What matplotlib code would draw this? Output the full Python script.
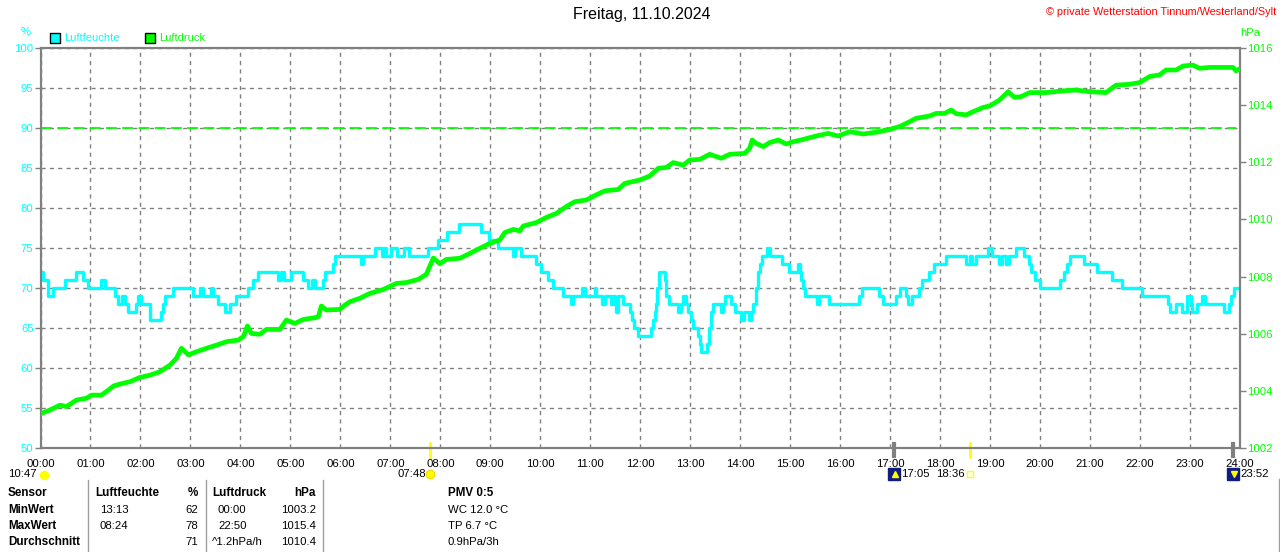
import matplotlib
matplotlib.use('Agg')
import matplotlib.pyplot as plt
from matplotlib.patches import Rectangle
from matplotlib.lines import Line2D
from matplotlib.transforms import blended_transform_factory

plt.rcParams['font.family'] = ['Liberation Sans', 'DejaVu Sans']

# Luftfeuchte (%), stepped values: start hour of each step
hum_t = [0.0, 0.06, 0.16, 0.26, 0.49, 0.72, 0.86, 0.96, 1.22, 1.29, 1.49, 1.56, 1.64, 1.69, 1.76,
         1.92, 1.96, 2.02, 2.19, 2.42, 2.46, 2.49, 2.66, 3.06, 3.2, 3.26, 3.42, 3.46, 3.56, 3.69,
         3.79, 3.92, 4.16, 4.26, 4.36, 4.76, 4.82, 4.88, 5.02, 5.26, 5.36, 5.44, 5.49, 5.66, 5.69,
         5.86, 5.89, 6.41, 6.46, 6.69, 6.84, 6.88, 6.92, 7.02, 7.14, 7.28, 7.38, 7.76, 7.95, 8.14,
         8.37, 8.81, 8.97, 9.15, 9.45, 9.49, 9.62, 9.92, 10.02, 10.16, 10.26, 10.46, 10.62, 10.66,
         10.84, 10.89, 11.09, 11.12, 11.24, 11.29, 11.42, 11.46, 11.49, 11.52, 11.56, 11.66, 11.79,
         11.84, 11.87, 11.96, 12.22, 12.26, 12.29, 12.31, 12.34, 12.38, 12.49, 12.52, 12.58, 12.76,
         12.82, 12.86, 12.92, 12.96, 13.02, 13.06, 13.16, 13.19, 13.22, 13.34, 13.37, 13.41, 13.46,
         13.61, 13.66, 13.69, 13.82, 13.89, 14.02, 14.07, 14.18, 14.22, 14.26, 14.31, 14.36, 14.39,
         14.44, 14.54, 14.59, 14.84, 14.98, 15.16, 15.19, 15.22, 15.26, 15.29, 15.54, 15.58, 15.78,
         16.38, 16.44, 16.78, 16.86, 17.11, 17.2, 17.31, 17.36, 17.44, 17.58, 17.64, 17.78, 17.87,
         18.11, 18.51, 18.6, 18.64, 18.71, 18.96, 19.04, 19.18, 19.24, 19.31, 19.38, 19.51, 19.67,
         19.78, 19.82, 19.89, 20.0, 20.4, 20.47, 20.54, 20.6, 20.87, 21.14, 21.44, 21.64, 22.04,
         22.56, 22.6, 22.71, 22.84, 22.94, 23.01, 23.04, 23.14, 23.24, 23.29, 23.68, 23.77, 23.81,
         23.87, 23.95]
hum_v = [72, 71, 69, 70, 71, 72, 71, 70, 71, 70, 69, 68, 69, 68, 67,
         68, 69, 68, 66, 67, 68, 69, 70, 69, 70, 69, 70, 69, 68, 67,
         68, 69, 70, 71, 72, 71, 72, 71, 72, 71, 70, 71, 70, 71, 72,
         73, 74, 73, 74, 75, 74, 75, 74, 75, 74, 75, 74, 75, 76, 77,
         78, 77, 76, 75, 74, 75, 74, 73, 72, 71, 70, 69, 68, 69,
         70, 69, 70, 69, 68, 69, 68, 69, 68, 67, 69, 68, 67,
         66, 65, 64, 65, 66, 67, 68, 70, 72, 71, 69, 68, 67,
         68, 69, 68, 67, 66, 65, 64, 63, 62, 63, 65, 67, 68,
         67, 68, 69, 68, 67, 66, 67, 66, 67, 68, 70, 72, 73,
         74, 75, 74, 73, 72, 73, 72, 71, 70, 69, 68, 69, 68,
         69, 70, 69, 68, 69, 70, 69, 68, 69, 70, 71, 72, 73,
         74, 73, 74, 73, 74, 75, 74, 73, 74, 73, 74, 75, 74,
         73, 72, 71, 70, 71, 72, 73, 74, 73, 72, 71, 70, 69,
         68, 67, 68, 67, 69, 68, 67, 68, 69, 68, 67, 68, 69,
         70, 70]

# Luftdruck (hPa)
p_t = [0, 0.19, 0.39, 0.52, 0.72, 0.92, 1.02, 1.22, 1.36, 1.46, 1.59, 1.79, 1.99, 2.19, 2.39,
       2.59, 2.72, 2.82, 2.96, 3.12, 3.32, 3.52, 3.72, 3.96, 4.06, 4.14, 4.22, 4.39, 4.52, 4.79,
       4.92, 5.09, 5.26, 5.49, 5.56, 5.62, 5.72, 5.99, 6.09, 6.19, 6.39, 6.59, 6.86, 7.12, 7.32,
       7.56, 7.72, 7.86, 7.99, 8.12, 8.39, 8.59, 8.79, 8.99, 9.19, 9.29, 9.46, 9.59, 9.66, 9.92,
       10.12, 10.32, 10.52, 10.69, 10.92, 11.12, 11.29, 11.56, 11.69, 11.99, 12.19, 12.36, 12.52,
       12.66, 12.86, 12.99, 13.19, 13.39, 13.62, 13.79, 14.09, 14.19, 14.24, 14.32, 14.46, 14.59,
       14.76, 14.92, 15.06, 15.26, 15.52, 15.76, 15.96, 16.19, 16.46, 16.79, 16.99, 17.19, 17.39,
       17.52, 17.79, 17.92, 18.09, 18.22, 18.32, 18.52, 18.66, 18.86, 18.99, 19.19, 19.36, 19.49,
       19.62, 19.79, 20.12, 20.46, 20.72, 20.99, 21.32, 21.52, 21.79, 21.99, 22.19, 22.39, 22.52,
       22.72, 22.86, 23.06, 23.19, 23.39, 23.52, 23.86, 23.92, 23.97]
p_v = [1003.2, 1003.33, 1003.5, 1003.45, 1003.68, 1003.74, 1003.85, 1003.85, 1004.03, 1004.17,
       1004.24, 1004.32, 1004.47, 1004.55, 1004.67, 1004.9, 1005.14, 1005.49, 1005.26, 1005.37,
       1005.49, 1005.6, 1005.72, 1005.78, 1005.9, 1006.27, 1006.01, 1005.98, 1006.15, 1006.15,
       1006.48, 1006.36, 1006.5, 1006.56, 1006.6, 1006.97, 1006.83, 1006.85, 1007.0, 1007.12,
       1007.24, 1007.41, 1007.55, 1007.76, 1007.79, 1007.9, 1008.08, 1008.65, 1008.45, 1008.6,
       1008.64, 1008.81, 1008.99, 1009.16, 1009.28, 1009.54, 1009.65, 1009.6, 1009.77, 1009.89,
       1010.07, 1010.21, 1010.45, 1010.62, 1010.68, 1010.86, 1011.0, 1011.05, 1011.26, 1011.38,
       1011.52, 1011.79, 1011.82, 1011.99, 1011.9, 1012.08, 1012.1, 1012.28, 1012.14, 1012.28,
       1012.31, 1012.49, 1012.78, 1012.66, 1012.55, 1012.69, 1012.78, 1012.64, 1012.72, 1012.8,
       1012.92, 1013.01, 1012.92, 1013.07, 1012.99, 1013.07, 1013.15, 1013.25, 1013.42, 1013.54,
       1013.62, 1013.71, 1013.71, 1013.83, 1013.7, 1013.66, 1013.77, 1013.92, 1013.97, 1014.18,
       1014.47, 1014.27, 1014.3, 1014.44, 1014.44, 1014.5, 1014.53, 1014.47, 1014.44, 1014.7,
       1014.73, 1014.79, 1015.0, 1015.06, 1015.23, 1015.23, 1015.37, 1015.4, 1015.29, 1015.32,
       1015.32, 1015.32, 1015.2, 1015.25]
p_ref = 1013.2

hours = list(range(25))
hour_labels = ['%02d:00' % h for h in hours]

sunrise, sunrise_lbl = 7.8, '07:48'
sunset, sunset_lbl = 18.6, '18:36'
moonrise, moonrise_lbl = 17.083, '17:05'
moonset, moonset_lbl = 23.867, '23:52'
sun_duration = '10:47'

table_rows = ['MinWert', 'MaxWert', 'Durchschnitt']
hum_times = ['13:13', '08:24', '']
hum_vals = ['62', '78', '71']
p_times = ['00:00', '22:50', '^1.2hPa/h']
p_vals = ['1003.2', '1015.4', '1010.4']
pmv_lines = ['WC 12.0 °C', 'TP 6.7 °C', '0.9hPa/3h']

CYAN = '#00ffff'
GREEN = '#00ff00'
GRAY = '#808080'
W, H = 1280, 552
FS = 8.2
FSB = 8.4


def px(x, y):
    return x / W, 1 - y / H


fig = plt.figure(figsize=(12.8, 5.52), dpi=100)
ax = fig.add_axes([40.5 / W, 104 / H, 1199.5 / W, 400 / H])
ax2 = ax.twinx()

ax.step(hum_t, hum_v, where='post', color=CYAN, lw=2.4, zorder=3)
ax2.plot(p_t, p_v, color=GREEN, lw=3.4, zorder=3)
ax2.axhline(p_ref, xmax=0.997, color=GREEN, lw=1.3, dashes=(6, 3))

ax.set_xlim(0, 24)
ax.set_ylim(50, 100)
ax2.set_ylim(1002, 1016)
ax.set_xticks(hours)
ax.set_xticklabels(hour_labels)
ax.set_yticks(range(50, 101, 5))
ax2.set_yticks(range(1002, 1017, 2))
ax.grid(True, color=GRAY, linestyle=(0, (3, 3)), lw=1)

ax.tick_params(axis='x', length=0, pad=8, labelsize=FS, labelcolor='black')
ax.tick_params(axis='y', length=4, width=1, color=GRAY, labelcolor=CYAN, labelsize=FS, pad=1)
ax2.tick_params(axis='y', length=4, width=1, color=GRAY, labelcolor=GREEN, labelsize=FS, pad=1)
for a in (ax, ax2):
    for s in a.spines.values():
        s.set_color(GRAY)
        s.set_linewidth(1.5)

# sun / moon markers on the time axis
tr = blended_transform_factory(ax.transData, ax.transAxes)
for t in (sunrise, sunset):
    ax.plot([t, t], [0.0125, -0.0225], color='#ffff00', lw=2, transform=tr, clip_on=False)
for t in (moonrise, moonset):
    ax.plot([t, t], [0.01, -0.02], color=GRAY, lw=3, transform=tr, clip_on=False)
yi = -0.065
ax.plot([sunrise], [yi], marker='o', ms=6, color='#ffff00', mec='#ffd800', transform=tr, clip_on=False)
ax.text(sunrise - 0.08, yi, sunrise_lbl, ha='right', va='center', fontsize=FS, transform=tr)
ax.plot([sunset], [yi], marker='s', ms=5, mfc='none', mec='#ffff00', transform=tr, clip_on=False)
ax.text(sunset - 0.1, yi, sunset_lbl, ha='right', va='center', fontsize=FS, transform=tr)
for t, lbl, arrow in ((moonrise, moonrise_lbl, '^'), (moonset, moonset_lbl, 'v')):
    ax.plot([t], [yi], marker='s', ms=8, color='#101c80', transform=tr, clip_on=False)
    ax.plot([t + 0.02], [yi], marker=arrow, ms=4, color='#ffff00', transform=tr, clip_on=False)
    ax.text(t + 0.14, yi, lbl, ha='left', va='center', fontsize=FS, transform=tr)
fig.text(*px(37, 474), sun_duration, ha='right', va='center', fontsize=FS)
fig.add_artist(Line2D([44 / W], [1 - 475 / H], marker='o', ms=6, color='#ffff00',
                      transform=fig.transFigure))

# titles and labels
fig.text(*px(642, 15), 'Freitag, 11.10.2024', ha='center', va='center', fontsize=11.5)
fig.text(*px(1276, 12), '© private Wetterstation Tinnum/Westerland/Sylt', ha='right',
         va='center', fontsize=7.8, color='red')
fig.text(*px(26, 32), '%', ha='center', va='center', fontsize=FS, color=CYAN)
fig.text(*px(1250, 33), 'hPa', ha='center', va='center', fontsize=FS, color=GREEN)
for x0, lbl, c in ((50, 'Luftfeuchte', CYAN), (145, 'Luftdruck', GREEN)):
    fig.patches.append(Rectangle(px(x0, 43), 10 / W, 10 / H, facecolor=c, edgecolor='black',
                                 lw=1, transform=fig.transFigure))
    fig.text(*px(x0 + 14, 38), lbl, ha='left', va='center', fontsize=8, color=c)

# table below the chart
for x0 in (88, 205.5, 323):
    fig.add_artist(Line2D([x0 / W, x0 / W], [1 - 480 / H, 0], color='#a0a0a0', lw=1,
                          transform=fig.transFigure))
fig.add_artist(Line2D([1279 / W, 1279 / W], [1 - 479 / H, 0], color='#a0a0a0', lw=1,
                      transform=fig.transFigure))
row_y = [510, 526, 542]
fig.text(*px(8, 493), 'Sensor', ha='left', va='center', fontsize=FSB, fontweight='bold')
fig.text(*px(95, 493), 'Luftfeuchte', ha='left', va='center', fontsize=FSB, fontweight='bold')
fig.text(*px(198, 493), '%', ha='right', va='center', fontsize=FSB, fontweight='bold')
fig.text(*px(212, 493), 'Luftdruck', ha='left', va='center', fontsize=FSB, fontweight='bold')
fig.text(*px(316, 493), 'hPa', ha='right', va='center', fontsize=FSB, fontweight='bold')
fig.text(*px(448, 493), 'PMV 0:5', ha='left', va='center', fontsize=FSB, fontweight='bold')
for i, y in enumerate(row_y):
    fig.text(*px(8, y), table_rows[i], ha='left', va='center', fontsize=FSB, fontweight='bold')
    fig.text(*px(100, y), hum_times[i], ha='left', va='center', fontsize=FS)
    fig.text(*px(198, y), hum_vals[i], ha='right', va='center', fontsize=FS)
    x_pt = 212 if p_times[i].startswith('^') else 218
    fig.text(*px(x_pt, y), p_times[i], ha='left', va='center', fontsize=FS)
    fig.text(*px(316, y), p_vals[i], ha='right', va='center', fontsize=FS)
    fig.text(*px(448, y), pmv_lines[i], ha='left', va='center', fontsize=FS)

fig.savefig('out.png', dpi=100)
